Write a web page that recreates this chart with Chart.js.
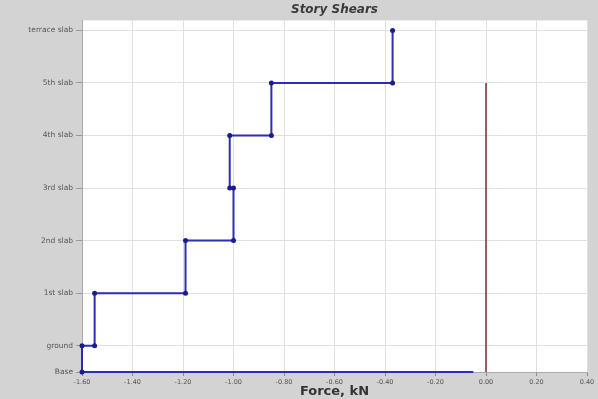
<!DOCTYPE html>
<html>
<head>
<meta charset="utf-8">
<script src="https://cdn.jsdelivr.net/npm/chart.js@4"></script>
<style>
html,body{margin:0;padding:0;background:#d3d3d3;}
#wrap{width:598px;height:399px;}
</style>
</head>
<body>
<div id="wrap"><canvas id="c" width="598" height="399"></canvas></div>
<script>
// story levels (elevation in m) and their names
const storyNames = ["Base","ground","1st slab","2nd slab","3rd slab","4th slab","5th slab","terrace slab"]
const storyElev = [0,1.5,4.5,7.5,10.5,13.5,16.5,19.5]

// step path of the shear line
const shearX = [-0.05,-1.60,-1.60,-1.55,-1.55,-1.19,-1.19,-1.00,-1.00,-1.015,-1.015,-0.85,-0.85,-0.37,-0.37]
const shearY = [0,0,1.5,1.5,4.5,4.5,7.5,7.5,10.5,10.5,13.5,13.5,16.5,16.5,19.5]

// red reference line
const refX = [0,0]
const refY = [16.5,0]

const xTicks = [-1.6,-1.4,-1.2,-1.0,-0.8,-0.6,-0.4,-0.2,0,0.2,0.4]

const toPts = (xs,ys)=>xs.map((x,i)=>({x:x,y:ys[i]}))

const plotBg = {
id:"plotBg",
beforeDraw(chart){
const a = chart.chartArea
const ctx = chart.ctx
ctx.save()
ctx.fillStyle="#ffffff"
ctx.fillRect(a.left,a.top,a.right-a.left,a.bottom-a.top)
ctx.restore()
}
}

new Chart(document.getElementById("c"),{
type:"scatter",
data:{
datasets:[
{
data:toPts(refX,refY),
showLine:true,
borderColor:"#8e2424",
borderWidth:1.5,
pointRadius:0
},
{
data:toPts(shearX,shearY),
showLine:true,
clip:5,
borderColor:"#2b2bc0",
borderWidth:2,
pointRadius:shearX.map((v,i)=>i===0?0:2.5),
pointBackgroundColor:"#1c1c8c",
pointBorderColor:"#1c1c8c",
pointBorderWidth:0
}
]
},
options:{
responsive:false,
animation:false,
layout:{padding:{left:0,right:11,top:0,bottom:0}},
plugins:{
legend:{display:false},
tooltip:{enabled:false},
title:{
display:true,
fullSize:false,
text:"Story Shears",
color:"#3a3a3a",
font:{family:"DejaVu Sans",size:12,weight:"bold",style:"italic"},
padding:{top:3,bottom:3}
}
},
scales:{
x:{
type:"linear",
min:-1.6,
max:0.4,
afterBuildTicks(s){ s.ticks = xTicks.map(v=>({value:v})) },
afterFit(s){ s.height = 27 },
ticks:{
color:"#555",
font:{family:"DejaVu Sans",size:6.5},
padding:2,
maxRotation:0,
callback:v=>v.toFixed(2)
},
grid:{color:"#e0e0e0",tickColor:"#888",tickLength:4},
border:{color:"#aaa"},
title:{
display:true,
text:"Force, kN",
color:"#333",
font:{family:"DejaVu Sans",size:13,weight:"bold"},
padding:{top:0,bottom:0}
}
},
y:{
type:"linear",
min:0,
max:20.07,
afterBuildTicks(s){ s.ticks = storyElev.map(v=>({value:v})) },
afterFit(s){ s.width = 82 },
ticks:{
color:"#555",
font:{family:"DejaVu Sans",size:7.5},
padding:3,
callback:v=>storyNames[storyElev.indexOf(v)]
},
grid:{color:"#e0e0e0",tickColor:"#999",tickLength:6},
border:{color:"#aaa"}
}
}
},
plugins:[plotBg]
})
</script>
</body>
</html>
